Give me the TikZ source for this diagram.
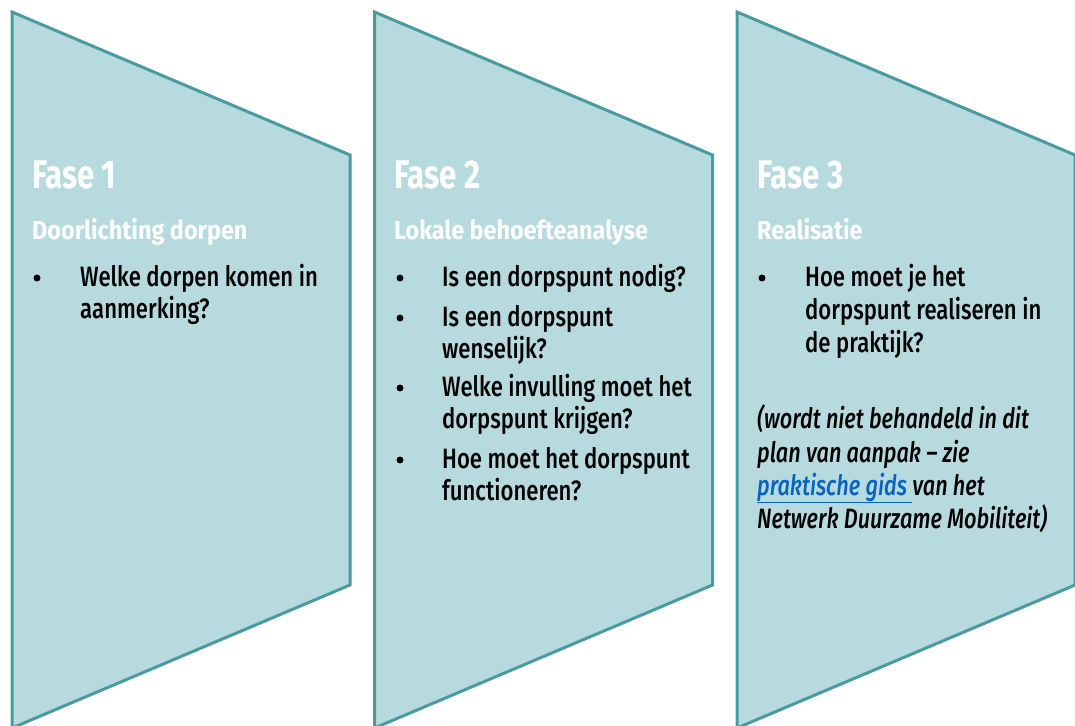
\documentclass[tikz,border=0pt]{standalone}
\usepackage{fontspec}
\setmainfont{Fira Sans}[FakeStretch=0.8]
\newfontfamily\bodyfont{Fira Sans Medium}[FakeStretch=0.79]
\newfontfamily\notefont{Fira Sans Medium}[FakeStretch=0.775]
\newfontfamily\headfont{Fira Sans}[FakeStretch=0.78]
\newfontfamily\subfont{Fira Sans}[FakeStretch=0.9]
\usetikzlibrary{calc}
\definecolor{panelfill}{HTML}{B7DADF}
\definecolor{paneledge}{HTML}{4A9BA0}
\definecolor{linkblue}{HTML}{0563C1}
\tikzset{
  panel/.style={fill=panelfill, draw=paneledge, line width=3pt, line join=miter},
  phase/.style={anchor=base west, inner sep=0pt, text=white, font=\headfont\bfseries\fontsize{40}{44}\selectfont},
  subtitle/.style={anchor=base west, inner sep=0pt, text=white, font=\subfont\bfseries\fontsize{26}{30}\selectfont},
  body/.style={anchor=base west, inner sep=0pt, text=black, font=\bodyfont\fontsize{28}{32}\selectfont},
  note/.style={anchor=base west, inner sep=0pt, text=black, font=\notefont\fontsize{28}{32}\selectfont\itshape},
  bullet/.style={circle, fill=black, inner sep=0pt, minimum size=7pt}
}
\begin{document}
\begin{tikzpicture}[x=1pt, y=-1pt]
\useasboundingbox (0,0) rectangle (1075,725);
\clip (0,0) rectangle (1075,725);
% three chevron-like panels
\foreach \dx in {0, 362.5, 725} {
  \draw[panel] (12+\dx,12) -- (350+\dx,155) -- (350+\dx,585) -- (12+\dx,728) -- cycle;
}
% phase 1
\node[phase] (p1) at (32,188) {Fase 1};
\node[subtitle] (s1) at (32,239) {Doorlichting dorpen};
\node[bullet] (b11) at (37,278) {};
\node[body] (t11a) at (80,286) {Welke dorpen komen in};
\node[body] (t11b) at (80,318) {aanmerking?};
% phase 2
\node[phase] (p2) at (394,188) {Fase 2};
\node[subtitle] (s2) at (394,239) {Lokale behoefteanalyse};
\node[bullet] (b21) at (400,278) {};
\node[body] (t21) at (442,286) {Is een dorpspunt nodig?};
\node[bullet] (b22) at (400,318) {};
\node[body] (t22a) at (442,326) {Is een dorpspunt};
\node[body] (t22b) at (442,358) {wenselijk?};
\node[bullet] (b23) at (400,388) {};
\node[body] (t23a) at (442,396) {Welke invulling moet het};
\node[body] (t23b) at (442,428) {dorpspunt krijgen?};
\node[bullet] (b24) at (400,460) {};
\node[body] (t24a) at (442,468) {Hoe moet het dorpspunt};
\node[body] (t24b) at (442,500) {functioneren?};
% phase 3
\node[phase] (p3) at (757,188) {Fase 3};
\node[subtitle] (s3) at (757,239) {Realisatie};
\node[bullet] (b31) at (762,278) {};
\node[body] (t31a) at (805,286) {Hoe moet je het};
\node[body] (t31b) at (805,319) {dorpspunt realiseren in};
\node[body] (t31c) at (805,352) {de praktijk?};
\node[note] (n1) at (757,428) {(wordt niet behandeld in dit};
\node[note] (n2) at (757,462) {plan van aanpak – zie};
\node[note] (n3) at (757,495) {\textcolor{linkblue}{\underline{praktische gids }}van het};
\node[note] (n4) at (757,528) {Netwerk Duurzame Mobiliteit)};
\end{tikzpicture}
\end{document}
